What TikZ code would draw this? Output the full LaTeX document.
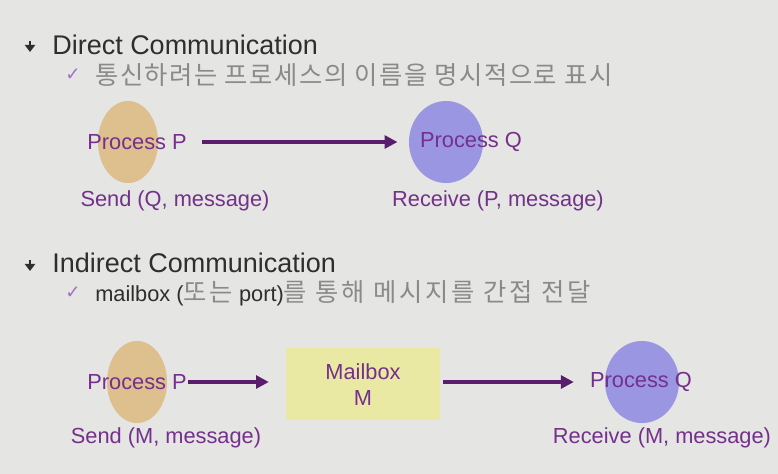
\documentclass[tikz,border=0pt]{standalone}
\usepackage{fontspec}
\setmainfont{Liberation Sans}
\newfontfamily\krfont[LetterSpace=6]{Noto Sans CJK KR}
\newfontfamily\krwide[LetterSpace=11]{Noto Sans CJK KR}
\newfontfamily\symfont{DejaVu Sans}
\usepackage{tikz}
\usetikzlibrary{arrows.meta,positioning,shapes.geometric}
\definecolor{cbg}{HTML}{E5E5E3}
\definecolor{chead}{HTML}{2E2E2E}
\definecolor{ckor}{HTML}{8A8A8A}
\definecolor{clbl}{HTML}{74308A}
\definecolor{carr}{HTML}{5A1C6C}
\definecolor{ctick}{HTML}{A070C8}
\definecolor{cpfill}{HTML}{DEBF8E}
\definecolor{cqfill}{HTML}{9B96E2}
\definecolor{cbox}{HTML}{E9E9A4}
\newcommand{\headfont}{\fontsize{19.2pt}{22pt}\selectfont}
\newcommand{\subfont}{\fontsize{18pt}{21pt}\selectfont}
\newcommand{\lblfont}{\fontsize{15.5pt}{18.5pt}\selectfont}
\newcommand{\kr}[1]{{\krfont #1}}
\newcommand{\krw}[1]{{\krwide #1}}
\tikzset{
  head/.style={anchor=west, inner sep=0pt, font=\headfont, text=chead},
  sub/.style={anchor=west, inner sep=0pt, font=\subfont, text=ckor},
  tick/.style={inner sep=0pt, font=\symfont\fontsize{13pt}{13pt}\selectfont, text=ctick},
  procp/.style={ellipse, draw=none, fill=cpfill, minimum width=1.5cm, minimum height=2.05cm},
  procq/.style={ellipse, draw=none, fill=cqfill, minimum width=1.85cm, minimum height=2.05cm},
  mbox/.style={draw=none, fill=cbox, minimum width=3.85cm, minimum height=1.8cm, inner sep=0pt},
  lbl/.style={inner sep=1pt, font=\lblfont, text=clbl, align=center},
  flow/.style={-{Triangle[length=3.2mm, width=3.2mm]}, line width=2.4pt, draw=carr},
  bul/.style={-{Triangle[length=1.8mm, width=2.6mm]}, line width=1.4pt, draw=chead},
}
\begin{document}
\begin{tikzpicture}[x=0.025cm, y=-0.025cm]
\fill[cbg] (0,0) rectangle (778,474);
\useasboundingbox (0,0) rectangle (778,474);
% direct communication
\draw[bul] (30,41) -- (30,52);
\node[head] (dh) at (52,45) {Direct Communication};
\node[tick] (dt) at (73,75) {✓};
\node[sub] (ds) at (95,75) {\kr{통신하려는 프로세스의 이름을 명시적으로 표시}};
\node[procp] (pa) at (128,142) {};
\node[procq] (qa) at (446,142) {};
\node[lbl] (pat) at (137,142) {Process P};
\node[lbl] (qat) at (471,142) {Process Q};
\node[lbl] (sa) at (175,201) {Send (Q, message)};
\node[lbl] (ra) at (498,201) {Receive (P, message)};
\draw[flow, shorten <=10pt, shorten >=8pt] (pat.east) -- (qa.west);
% indirect communication
\draw[bul] (30,260) -- (30,271);
\node[head] (ih) at (52,263) {Indirect Communication};
\node[tick] (it) at (73,293) {✓};
\node[sub] (is) at (95,293) {{\lblfont\color{chead}mailbox (}\krw{또는}{\lblfont\color{chead}\ port)}\krw{를 통해 메시지를 간접 전달}};
\node[procp] (pb) at (137,382) {};
\node[mbox] (mb) at (363,384) {};
\node[procq] (qb) at (642,382) {};
\node[lbl] (pbt) at (137,382) {Process P};
\node[lbl] (mbt) at (363,385) {Mailbox\\M};
\node[lbl] (qbt) at (641,382) {Process Q};
\node[lbl] (sb) at (166,438) {Send (M, message)};
\node[lbl] (rb) at (662,438) {Receive (M, message)};
\draw[flow, shorten >=12pt] (pbt.east) -- (pbt.east -| mb.west);
\draw[flow, shorten <=2pt, shorten >=22pt] (mb.east |- qb.west) -- (qb.west);
\end{tikzpicture}
\end{document}
